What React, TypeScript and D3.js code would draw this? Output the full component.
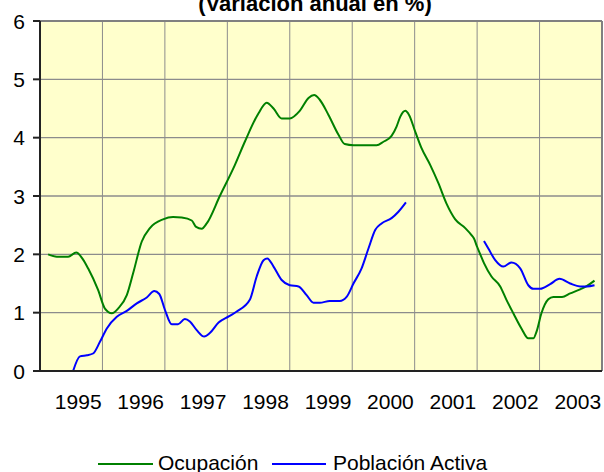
import React from "react";
import * as d3 from "d3";

const years = ["1995", "1996", "1997", "1998", "1999", "2000", "2001", "2002", "2003"];
const yTicks = [0, 1, 2, 3, 4, 5, 6];
const titleText = "(Variación anual en %)";
const seriesNames = ["Ocupación", "Población Activa"];

const ocupT = [1995.13, 1995.27, 1995.45, 1995.58, 1995.69, 1995.77, 1995.93, 1996.04, 1996.15, 1996.25, 1996.39, 1996.49, 1996.63, 1996.76, 1996.97, 1997.13, 1997.27, 1997.43, 1997.5, 1997.59, 1997.67, 1997.88, 1998.12, 1998.28, 1998.5, 1998.63, 1998.74, 1998.87, 1999.0, 1999.16, 1999.3, 1999.39, 1999.48, 1999.62, 1999.78, 1999.88, 2000.02, 2000.39, 2000.5, 2000.63, 2000.71, 2000.77, 2000.85, 2000.91, 2001.01, 2001.11, 2001.25, 2001.38, 2001.51, 2001.65, 2001.81, 2001.91, 2001.95, 2002.0, 2002.05, 2002.11, 2002.23, 2002.37, 2002.47, 2002.58, 2002.71, 2002.82, 2002.9, 2002.95, 2003.03, 2003.14, 2003.22, 2003.36, 2003.49, 2003.65, 2003.76, 2003.88];
const ocupV = [2.0, 1.96, 1.96, 2.03, 1.91, 1.76, 1.39, 1.07, 0.99, 1.07, 1.3, 1.67, 2.22, 2.45, 2.6, 2.64, 2.63, 2.58, 2.47, 2.44, 2.53, 3.0, 3.53, 3.93, 4.42, 4.6, 4.5, 4.33, 4.33, 4.46, 4.68, 4.73, 4.65, 4.39, 4.05, 3.89, 3.87, 3.87, 3.93, 4.03, 4.19, 4.36, 4.46, 4.39, 4.1, 3.82, 3.53, 3.22, 2.87, 2.6, 2.45, 2.33, 2.27, 2.13, 2.0, 1.85, 1.62, 1.45, 1.22, 0.99, 0.73, 0.56, 0.56, 0.67, 0.99, 1.23, 1.27, 1.27, 1.33, 1.4, 1.46, 1.55];

const pobT1 = [1995.53, 1995.64, 1995.75, 1995.85, 1995.96, 1996.07, 1996.23, 1996.39, 1996.55, 1996.71, 1996.83, 1996.91, 1997.0, 1997.11, 1997.21, 1997.32, 1997.4, 1997.51, 1997.63, 1997.72, 1997.86, 1998.03, 1998.15, 1998.36, 1998.47, 1998.58, 1998.64, 1998.74, 1998.87, 1999.0, 1999.14, 1999.27, 1999.38, 1999.48, 1999.64, 1999.8, 1999.91, 2000.02, 2000.15, 2000.26, 2000.37, 2000.47, 2000.63, 2000.74, 2000.86];
const pobV1 = [0.0, 0.25, 0.27, 0.3, 0.5, 0.73, 0.93, 1.03, 1.16, 1.26, 1.37, 1.32, 1.05, 0.8, 0.8, 0.89, 0.85, 0.7, 0.59, 0.65, 0.83, 0.94, 1.02, 1.22, 1.62, 1.9, 1.93, 1.79, 1.56, 1.47, 1.45, 1.3, 1.17, 1.17, 1.2, 1.2, 1.27, 1.5, 1.76, 2.1, 2.42, 2.53, 2.62, 2.73, 2.89];
const pobT2 = [2002.11, 2002.18, 2002.29, 2002.42, 2002.55, 2002.69, 2002.82, 2002.9, 2003.01, 2003.17, 2003.32, 2003.49, 2003.65, 2003.76, 2003.88];
const pobV2 = [2.23, 2.1, 1.9, 1.79, 1.86, 1.76, 1.47, 1.41, 1.41, 1.49, 1.58, 1.5, 1.45, 1.45, 1.47];

const FONT = "'Liberation Sans', Arial, sans-serif";

export default function App() {
  const left = 40, right = 602, top = 21, bottom = 371;
  const x = d3.scaleLinear().domain([1995, 2004]).range([left, right]);
  const y = d3.scaleLinear().domain([0, 6]).range([bottom, top]);
  const line = d3
    .line<[number, number]>()
    .x((d) => x(d[0]))
    .y((d) => y(d[1]))
    .curve(d3.curveMonotoneX);
  const zip = (t: number[], v: number[]) => t.map((tt, i) => [tt, v[i]] as [number, number]);
  const gridYears = d3.range(1995, 2005);

  return (
    <svg
      width={604}
      height={472}
      style={{ position: "fixed", left: 0, top: 0, background: "#ffffff" }}
      fontFamily={FONT}
    >
      <defs>
        <clipPath id="plotclip">
          <rect x={left} y={top} width={right - left} height={bottom - top} />
        </clipPath>
      </defs>
      <rect x={left} y={top} width={right - left} height={bottom - top} fill="#FFFFCC" />
      {yTicks.slice(1, -1).map((t) => (
        <line key={"h" + t} x1={left} x2={right} y1={y(t)} y2={y(t)} stroke="#8c8c8c" strokeWidth={1.3} />
      ))}
      {gridYears.slice(1, -1).map((g) => (
        <line key={"v" + g} x1={x(g)} x2={x(g)} y1={top} y2={bottom} stroke="#8c8c8c" strokeWidth={1} />
      ))}
      <line x1={left} x2={right} y1={top} y2={top} stroke="#808080" strokeWidth={2} />
      <line x1={right} x2={right} y1={top} y2={bottom} stroke="#808080" strokeWidth={2} />
      <g clipPath="url(#plotclip)" fill="none" strokeWidth={2} strokeLinejoin="round">
        <path d={line(zip(ocupT, ocupV)) || ""} stroke="#008000" />
        <path d={line(zip(pobT1, pobV1)) || ""} stroke="#0000FF" />
        <path d={line(zip(pobT2, pobV2)) || ""} stroke="#0000FF" />
      </g>
      <line x1={left} x2={left} y1={top} y2={bottom + 1} stroke="#222" strokeWidth={2} />
      <line x1={left - 7} x2={right} y1={bottom} y2={bottom} stroke="#222" strokeWidth={2} />
      {yTicks.map((t) => (
        <g key={"yt" + t}>
          <line x1={left - 7} x2={left} y1={y(t)} y2={y(t)} stroke="#222" strokeWidth={2} />
          <text x={25} y={y(t)} dy="0.36em" textAnchor="end" fontSize={21} fill="#000">
            {t}
          </text>
        </g>
      ))}
      {years.map((yr) => (
        <text key={yr} x={x(+yr + 0.5) + 7} y={409} textAnchor="middle" fontSize={21} fill="#000">
          {yr}
        </text>
      ))}
      <text x={315} y={11} textAnchor="middle" fontSize={22} fontWeight="bold" fill="#000">
        {titleText}
      </text>
      <g>
        <line x1={98} x2={153} y1={464} y2={464} stroke="#008000" strokeWidth={2} />
        <text x={158} y={470} fontSize={21} fill="#000">{seriesNames[0]}</text>
        <line x1={272} x2={326} y1={464} y2={464} stroke="#0000FF" strokeWidth={2} />
        <text x={333} y={470} fontSize={21} fill="#000">{seriesNames[1]}</text>
      </g>
    </svg>
  );
}
